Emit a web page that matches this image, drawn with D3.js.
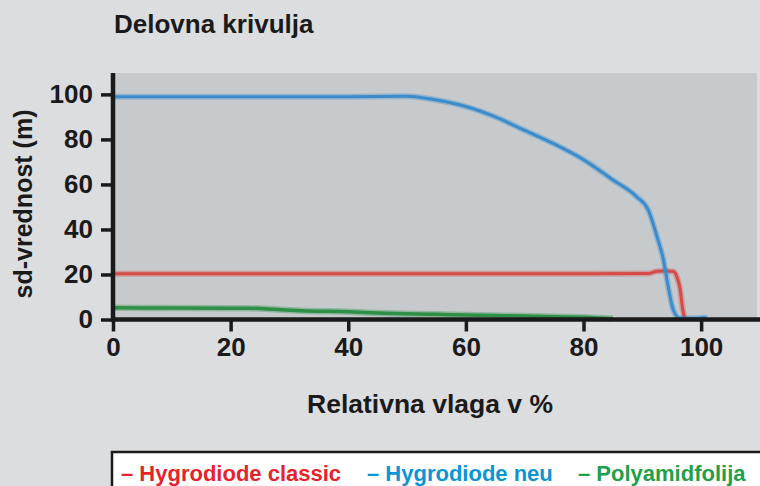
<!DOCTYPE html>
<html><head><meta charset="utf-8">
<script src="https://cdn.jsdelivr.net/npm/d3@7"></script>
<style>
html,body{margin:0;padding:0;background:#dcdddf;}
svg{display:block;font-family:"Liberation Sans",Arial,Helvetica,sans-serif;font-weight:bold;}
</style></head>
<body><svg id="c" width="760" height="486"></svg>
<script>
const xTicks = [0, 20, 40, 60, 80, 100];
const yTicks = [0, 20, 40, 60, 80, 100];
const blueX = [0, 10, 20, 30, 40, 50, 55, 60, 65, 70, 75, 80, 85, 89, 91, 92.5, 93.6, 94.4, 95.3, 96.4, 98, 99.5, 100.3, 101];
const blueY = [99, 99, 99, 99, 99, 99.2, 97.5, 94.6, 90, 84, 78, 71, 62, 54.6, 48.7, 36.8, 26.4, 14.6, 4, 0.6, 0.5, 0.5, 0.9, 0.6];
const redX = [0, 20, 40, 60, 80, 91, 92.5, 94, 95.3, 96, 96.4, 96.9, 97.2];
const redY = [20.3, 20.3, 20.3, 20.3, 20.3, 20.4, 21.4, 21.6, 21.3, 18, 14, 4, 0.5];
const greenX = [0, 10, 20, 23, 28, 32, 40, 45, 55, 60, 70, 80, 85];
const greenY = [5.2, 5.1, 5.0, 5.0, 4.4, 3.9, 3.4, 2.9, 2.3, 2.0, 1.5, 1.0, 0.4];
const legendLabels = ["– Hygrodiode classic", "– Hygrodiode neu", "– Polyamidfolija"];
const legendColors = ["#e3242b", "#0b95d6", "#1fa14a"];
const lineColors = ["#d64a48", "#3a8ccc", "#2e8f47"];

const svg = d3.select("#c");
const x = d3.scaleLinear().domain([0, 109.5]).range([113, 757]);
const y = d3.scaleLinear().domain([0, 109.5]).range([319.5, 73]);

// plot background
svg.append("rect").attr("x", x(0)).attr("y", y(109.5))
  .attr("width", x(109.5) - x(0)).attr("height", y(0) - y(109.5))
  .attr("fill", "#c7cacc");

const line = d3.line().x(d => x(d[0])).y(d => y(d[1])).curve(d3.curveMonotoneX);
const series = [
  {xs: redX, ys: redY, c: lineColors[0], w: 3},
  {xs: greenX, ys: greenY, c: lineColors[2], w: 3.5},
  {xs: blueX, ys: blueY, c: lineColors[1], w: 3}
];
series.forEach(s => {
  const pts = s.xs.map((v, i) => [v, s.ys[i]]);
  svg.append("path").datum(pts).attr("d", line)
    .attr("fill", "none").attr("stroke", s.c).attr("stroke-opacity", 0.35)
    .attr("stroke-width", s.w + 3).attr("stroke-linejoin", "round");
  svg.append("path").datum(pts).attr("d", line)
    .attr("fill", "none").attr("stroke", s.c)
    .attr("stroke-width", s.w).attr("stroke-linejoin", "round");
});

// axes
const xAxis = svg.append("g").attr("transform", `translate(0,${y(0)})`)
  .call(d3.axisBottom(x).tickValues(xTicks).tickSize(12).tickPadding(6).tickSizeOuter(0));
const yAxis = svg.append("g").attr("transform", `translate(${x(0)},0)`)
  .call(d3.axisLeft(y).tickValues(yTicks).tickSize(12).tickPadding(8).tickSizeOuter(0));
[xAxis, yAxis].forEach(g => {
  g.attr("font-size", 26).attr("font-family", "Liberation Sans, Arial, sans-serif").attr("font-weight", "bold");
  g.select(".domain").attr("stroke", "#1a1a1a").attr("stroke-width", 4.5);
  g.selectAll(".tick line").attr("stroke", "#1a1a1a").attr("stroke-width", 3.5);
  g.selectAll(".tick text").attr("fill", "#1a1a1a").attr("font-size", 26).style("font-size", "26px")
    .style("font-weight", "bold");
});
xAxis.select(".domain").attr("d", `M${x(0)-2},0H760`);
yAxis.select(".domain").attr("d", `M0,${y(109.5)}V${y(0)+2}`);

// titles
svg.append("text").attr("x", 114).attr("y", 33).attr("fill", "#1a1a1a")
  .style("font-size", "26px").text("Delovna krivulja");
svg.append("text").attr("x", 430).attr("y", 413).attr("text-anchor", "middle").attr("fill", "#1a1a1a")
  .style("font-size", "26.5px").text("Relativna vlaga v %");
svg.append("text").attr("transform", "translate(32,204) rotate(-90)").attr("text-anchor", "middle")
  .attr("fill", "#1a1a1a").style("font-size", "25px").text("sd-vrednost (m)");

// legend
svg.append("rect").attr("x", 112).attr("y", 452).attr("width", 660).attr("height", 50)
  .attr("fill", "#ffffff").attr("stroke", "#1a1a1a").attr("stroke-width", 2.5);
const legX = [121, 367, 578];
legendLabels.forEach((t, i) => {
  svg.append("text").attr("x", legX[i]).attr("y", 481).attr("fill", legendColors[i])
    .style("font-size", "22px").text(t);
});
</script></body></html>
